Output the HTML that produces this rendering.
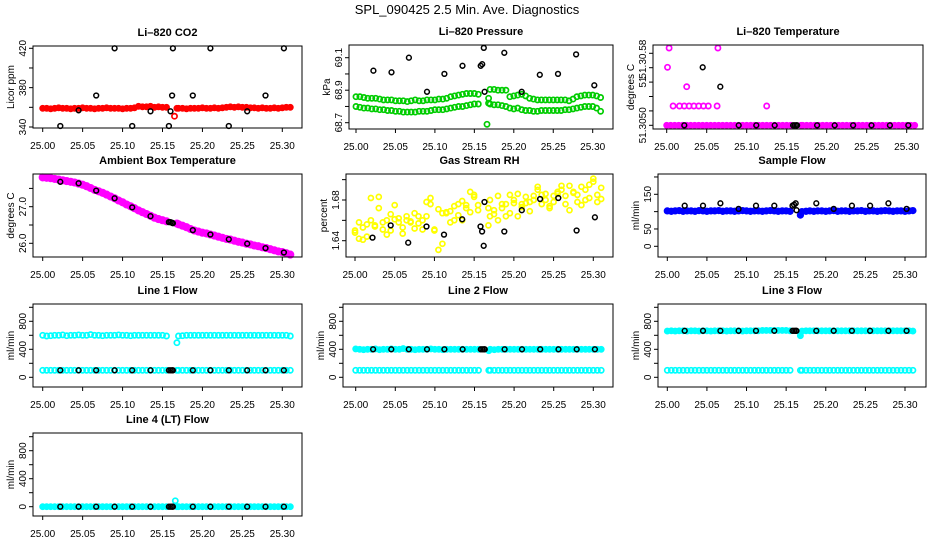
<!DOCTYPE html>
<html><head><meta charset="utf-8"><title>SPL_090425 Diagnostics</title>
<style>
html,body{margin:0;padding:0;background:#fff;}
svg{display:block;font-family:"Liberation Sans",Arial,sans-serif;}
</style></head>
<body>
<svg id="chart" width="936" height="540" viewBox="0 0 936 540" xmlns="http://www.w3.org/2000/svg">
<rect width="936" height="540" fill="#fff"/>
<text x="467" y="14" font-size="13" text-anchor="middle">SPL_090425  2.5 Min. Ave. Diagnostics</text>
</svg>
<script>
// ---- data ----
const xTicks = [25.00,25.05,25.10,25.15,25.20,25.25,25.30];
const xTickLabels = ["25.00","25.05","25.10","25.15","25.20","25.25","25.30"];
const tRef = [25.022,25.045,25.067,25.090,25.112,25.135,25.158,25.160,25.162,25.163,25.188,25.210,25.233,25.256,25.279,25.302];
const tD = [25.000,25.005,25.010,25.015,25.020,25.025,25.030,25.035,25.040,25.045,25.050,25.055,25.060,25.065,25.070,25.075,25.080,25.085,25.090,25.095,25.100,25.105,25.110,25.115,25.120,25.125,25.130,25.135,25.140,25.145,25.150,25.155,25.168,25.170,25.175,25.180,25.185,25.190,25.195,25.200,25.205,25.210,25.215,25.220,25.225,25.230,25.235,25.240,25.245,25.250,25.255,25.260,25.265,25.270,25.275,25.280,25.285,25.290,25.295,25.300,25.305,25.310];

const co2Dense = [359,359,358.5,359,359.5,359,359,358.5,359,359,359.5,359,359,358.5,359,359,359.5,359,359,359,358.5,359,359,359.5,361,360.5,360.5,361,360,360.5,360,360,359,359,359,358.5,359,359,359,359.5,359,359,359.5,359,359.5,360,360.5,360,360.5,360,360,359.5,359.5,359,359.5,359,359,359.5,359,359.5,360,360];
const co2Ref = [341,357,372,420,341,356,341,356,372,420,372,420,341,356,372,420];
const co2OutT = [25.165];
const co2Out = [351];

const presUpper = [68.86,68.86,68.855,68.85,68.85,68.85,68.845,68.84,68.84,68.84,68.835,68.835,68.835,68.83,68.835,68.84,68.835,68.835,68.84,68.84,68.84,68.845,68.845,68.85,68.86,68.865,68.87,68.875,68.88,68.88,68.88,68.875,68.85,68.905,68.905,68.9,68.9,68.9,68.86,68.865,68.87,68.875,68.865,68.85,68.845,68.84,68.84,68.84,68.84,68.84,68.84,68.84,68.84,68.835,68.845,68.86,68.865,68.87,68.87,68.87,68.865,68.855];
const presLower = [68.80,68.795,68.79,68.79,68.785,68.785,68.78,68.78,68.775,68.775,68.77,68.77,68.765,68.765,68.765,68.765,68.77,68.77,68.77,68.775,68.78,68.78,68.78,68.785,68.79,68.795,68.80,68.80,68.805,68.81,68.815,68.815,68.82,68.815,68.81,68.81,68.805,68.80,68.79,68.785,68.79,68.78,68.775,68.775,68.77,68.77,68.775,68.775,68.775,68.775,68.775,68.775,68.78,68.78,68.785,68.79,68.795,68.80,68.80,68.80,68.79,68.77];
const presRef = [69.02,69.01,69.10,68.89,69.00,69.05,69.05,69.06,69.16,68.89,69.13,68.89,68.995,69.00,69.12,68.93];
const presOutT = [25.166];
const presOut = [68.69];

const tempDense = [0,0,0,0,0,0,0,0,0,0,0,0,0,0,0,0,0,0,0,0,0,0,0,0,0,0,0,0,0,0,0,0,0,0,0,0,0,0,0,0,0,0,0,0,0,0,0,0,0,0,0,0,0,0,0,0,0,0,0,0,0,0];
const tempOutT = [25.001,25.003,25.025,25.008,25.016,25.022,25.028,25.034,25.040,25.046,25.052,25.063,25.064,25.125];
const tempOut = [4.03,5.37,2.68,1.34,1.34,1.34,1.34,1.34,1.34,1.34,1.34,1.34,5.37,1.34];
const tempRef = [0,4.03,2.68,0,0,0,0,0,0,0,0,0,0,0,0,0];

const ambDense = [27.80,27.79,27.78,27.76,27.74,27.72,27.70,27.68,27.66,27.63,27.60,27.56,27.51,27.46,27.42,27.38,27.33,27.28,27.23,27.17,27.12,27.06,27.01,26.96,26.90,26.85,26.80,26.75,26.70,26.66,26.63,26.60,26.54,26.52,26.48,26.44,26.39,26.35,26.32,26.29,26.27,26.24,26.21,26.18,26.15,26.12,26.10,26.07,26.04,26.02,25.99,25.97,25.94,25.92,25.89,25.87,25.84,25.81,25.78,25.76,25.73,25.69];
const ambRef = [27.68,27.64,27.44,27.23,26.98,26.74,26.58,26.58,26.56,26.55,26.36,26.24,26.11,25.99,25.87,25.75];

const rhA = [1.650,1.642,1.653,1.644,1.660,1.655,1.672,1.651,1.646,1.666,1.661,1.658,1.647,1.664,1.659,1.652,1.657,1.651,1.664,1.676,1.650,1.671,1.667,1.668,1.669,1.674,1.665,1.679,1.672,1.688,1.683,1.670,1.672,1.664,1.670,1.660,1.676,1.676,1.667,1.677,1.664,1.676,1.683,1.678,1.684,1.690,1.676,1.686,1.672,1.684,1.686,1.694,1.684,1.670,1.688,1.678,1.693,1.680,1.682,1.698,1.678,1.692];
const rhB = [1.648,1.658,1.641,1.656,1.682,1.654,1.683,1.658,1.660,1.650,1.675,1.662,1.653,1.660,1.658,1.667,1.664,1.660,1.678,1.682,1.651,1.631,1.637,1.667,1.658,1.660,1.676,1.660,1.675,1.668,1.685,1.675,1.655,1.680,1.666,1.684,1.672,1.664,1.685,1.680,1.686,1.673,1.677,1.669,1.680,1.693,1.685,1.680,1.674,1.678,1.688,1.690,1.676,1.694,1.687,1.685,1.675,1.690,1.695,1.701,1.685,1.681];
const rhRef = [1.643,1.655,1.638,1.654,1.646,1.661,1.654,1.649,1.635,1.678,1.649,1.670,1.681,1.682,1.650,1.663];

const sampDense = [102,101,102,103,101,102,102,101,103,102,101,102,102,103,101,102,102,101,102,103,102,101,102,102,101,102,103,102,101,102,102,101,90,100,101,102,101,102,102,101,102,103,101,102,102,101,102,102,103,101,102,102,101,102,103,102,101,102,102,101,102,103];
const sampRef = [117,117,124,108,117,117,117,120,124,104,124,108,117,117,124,108];

const l1Upper = [600,590,595,600,600,605,595,600,600,605,600,600,610,600,600,595,600,600,600,605,600,600,595,600,600,600,600,600,600,600,600,590,494,590,595,600,600,600,600,600,600,600,600,600,600,600,600,600,600,600,600,600,600,600,600,600,600,600,600,600,600,590];
const l1Lower = [100,100,100,100,100,100,100,100,100,100,100,100,100,100,100,100,100,100,100,100,100,100,100,100,100,100,100,100,100,100,100,100,100,100,100,100,100,100,100,100,100,100,100,100,100,100,100,100,100,100,100,100,100,100,100,100,100,100,100,100,100,100];
const l1Ref = [100,100,100,100,100,100,100,100,100,100,100,100,100,100,100,100];

const l2Upper = [405,400,395,400,400,405,395,400,400,405,400,400,410,400,400,395,400,400,400,405,400,400,395,400,400,400,400,400,400,400,400,400,380,400,395,400,400,400,400,400,400,400,400,400,400,400,400,400,400,400,400,400,400,400,400,400,400,400,400,400,400,400];
const l2Lower = l1Lower.slice();
const l2Ref = [400,400,400,400,400,400,400,400,400,400,400,400,400,400,400,400];

const l3Upper = [660,665,660,665,665,660,665,665,660,665,665,660,665,665,665,660,665,665,665,660,665,665,665,665,670,670,670,670,670,670,670,665,594,660,665,665,665,665,665,665,665,665,665,665,665,665,665,665,665,665,665,665,665,665,665,665,665,665,665,665,665,660];
const l3Lower = l1Lower.slice();
const l3Ref = [665,665,665,665,665,665,665,665,665,665,665,665,665,665,665,665];

const l4Dense = [0,0,0,0,0,0,0,0,0,0,0,0,0,0,0,0,0,0,0,0,0,0,0,0,0,0,0,0,0,0,0,0,0,0,0,0,0,0,0,0,0,0,0,0,0,0,0,0,0,0,0,0,0,0,0,0,0,0,0,0,0,0];
const l4OutT = [25.166];
const l4Out = [85];
const l4Ref = [0,0,0,0,0,0,0,0,0,0,0,0,0,0,0,0];

// ---- layout ----
const svg = document.getElementById('chart');
const NS = 'http://www.w3.org/2000/svg';
function mk(tag, attrs, parent){
  const e = document.createElementNS(NS, tag);
  for (const k in attrs) e.setAttribute(k, attrs[k]);
  (parent||svg).appendChild(e);
  return e;
}

// series: [times, values, colour, radius, bandWidth(optional)]
const panels = [
 {key:'co2',title:'Li\u2013820 CO2',ylab:'Licor ppm',l:33,r:302,t:46,b:128,x0:42.7,x1:282.3,yv0:340,yp0:127,yv1:420,yp1:48.3,
  yt:[340,360,380,400,420],yl:[[340,'340'],[380,'380'],[420,'420']],
  series:[[tD,co2Dense,'#ff0000',2.6,5],[co2OutT,co2Out,'#ff0000',2.6],[tRef,co2Ref,'#000',2.4]]},
 {key:'pressure',title:'Li\u2013820 Pressure',ylab:'kPa',l:349,r:613,t:45,b:129,x0:356,x1:592.7,yv0:68.7,yp0:122.7,yv1:69.1,yp1:57.7,
  yt:[68.7,68.8,68.9,69.0,69.1],yl:[[68.7,'68.7'],[68.9,'68.9'],[69.1,'69.1']],
  series:[[tD,presUpper,'#00cc00',2.6],[tD,presLower,'#00cc00',2.6],[presOutT,presOut,'#00cc00',2.6],[tRef,presRef,'#000',2.4]]},
 {key:'temperature',title:'Li\u2013820 Temperature',ylab:'degrees C',l:653,r:923,t:45,b:129,x0:666.7,x1:906.7,yv0:0,yp0:125.3,yv1:5,yp1:53.3,
  yt:[0,1,2,3,4,5],yl:[[0,'51.3050'],[3,'51'],[4.6,'51.30.58']],
  series:[[tD,tempDense,'#ff00ff',2.6,4],[tempOutT,tempOut,'#ff00ff',2.6],[tRef,tempRef,'#000',2.4]]},
 {key:'ambient',title:'Ambient Box Temperature',ylab:'degrees C',l:33,r:302,t:174,b:257,x0:42.7,x1:282.3,yv0:26.0,yp0:243.3,yv1:27.0,yp1:206.7,
  yt:[26.0,26.5,27.0,27.5],yl:[[26.0,'26.0'],[27.0,'27.0']],
  series:[[tD,ambDense,'#ff00ff',3.2,7],[tRef,ambRef,'#000',2.4]]},
 {key:'rh',title:'Gas Stream RH',ylab:'percent',l:346,r:613,t:174,b:257,x0:355,x1:593.3,yv0:1.64,yp0:240.7,yv1:1.68,yp1:200,
  yt:[1.64,1.66,1.68,1.70],yl:[[1.64,'1.64'],[1.68,'1.68']],
  series:[[tD,rhA,'#ffff00',2.5],[tD,rhB,'#ffff00',2.5],[tRef,rhRef,'#000',2.4]]},
 {key:'sample',title:'Sample Flow',ylab:'ml/min',l:658,r:926,t:174,b:257,x0:667.3,x1:905,yv0:0,yp0:246.3,yv1:150,yp1:194.3,
  yt:[0,50,100,150,200],yl:[[0,'0'],[50,'50'],[150,'150']],
  series:[[tD,sampDense,'#0000ff',2.8,5],[tRef,sampRef,'#000',2.4]]},
 {key:'line1',title:'Line 1 Flow',ylab:'ml/min',l:33,r:302,t:304,b:387,x0:42.7,x1:282.3,yv0:0,yp0:377.3,yv1:800,yp1:321.3,
  yt:[0,200,400,600,800,1000],yl:[[0,'0'],[400,'400'],[800,'800']],
  series:[[tD,l1Upper,'#00ffff',2.6],[tD,l1Lower,'#00ffff',2.6],[tRef,l1Ref,'#000',2.4]]},
 {key:'line2',title:'Line 2 Flow',ylab:'ml/min',l:343,r:613,t:304,b:387,x0:355.7,x1:593.3,yv0:0,yp0:377.3,yv1:800,yp1:321.3,
  yt:[0,200,400,600,800,1000],yl:[[0,'0'],[400,'400'],[800,'800']],
  series:[[tD,l2Upper,'#00ffff',2.6,4],[tD,l2Lower,'#00ffff',2.6],[tRef,l2Ref,'#000',2.4]]},
 {key:'line3',title:'Line 3 Flow',ylab:'ml/min',l:658,r:926,t:304,b:387,x0:667.3,x1:905,yv0:0,yp0:377.3,yv1:800,yp1:321.3,
  yt:[0,200,400,600,800,1000],yl:[[0,'0'],[400,'400'],[800,'800']],
  series:[[tD,l3Upper,'#00ffff',2.6,4],[tD,l3Lower,'#00ffff',2.6],[tRef,l3Ref,'#000',2.4]]},
 {key:'line4',title:'Line 4 (LT) Flow',ylab:'ml/min',l:33,r:302,t:433,b:516,x0:42.7,x1:282.3,yv0:0,yp0:506.7,yv1:800,yp1:450.7,
  yt:[0,200,400,600,800,1000],yl:[[0,'0'],[400,'400'],[800,'800']],
  series:[[tD,l4Dense,'#00ffff',2.6,5],[l4OutT,l4Out,'#00ffff',2.6],[tRef,l4Ref,'#000',2.4]]}
];

panels.forEach(p => {
  const g = mk('g', {});
  
  
  const xs = v => p.x0 + (v - 25.0) / 0.3 * (p.x1 - p.x0);
  const ys = v => p.yp0 + (v - p.yv0) / (p.yv1 - p.yv0) * (p.yp1 - p.yp0);
  const tt = mk('text', {x:(p.l+p.r)/2, y:p.t-10, 'font-size':11, 'font-weight':'bold', 'text-anchor':'middle'}, g);
  
  
  tt.textContent = p.title;
  const pg = mk('g', {}, g);
  
  
  p.series.forEach(s => {
    const [tArr, vArr, col, rr, band] = s;
    const n = Math.min(tArr.length, vArr.length);
    if (band) {
      // split at the data gap (> 0.008 in time)
      let seg = [];
      const flush = () => {
        if (seg.length > 1) {
          const pl = mk('polyline', {points:seg.join(' '), fill:'none', stroke:col, 'stroke-width':band, 'stroke-linejoin':'round', 'stroke-linecap':'round'}, pg);
          
          
        }
        seg = [];
      };
      for (let i = 0; i < n; i++) {
        if (i > 0 && tArr[i] - tArr[i-1] > 0.008) flush();
        seg.push(xs(tArr[i]).toFixed(1) + ',' + ys(vArr[i]).toFixed(1));
      }
      flush();
    }
    for (let i = 0; i < n; i++) {
      const c = mk('circle', {cx:xs(tArr[i]).toFixed(1), cy:ys(vArr[i]).toFixed(1), r:rr, fill:'none', stroke:col, 'stroke-width': col==='#000'?1.5:1.7}, pg);
      
      
    }
  });
  const box = mk('rect', {x:p.l, y:p.t, width:p.r-p.l, height:p.b-p.t, fill:'none', stroke:'#000', 'stroke-width':1}, g);
  
  
  const xa = mk('g', {}, g);
  
  
  xTicks.forEach((v, i) => {
    const x = xs(v);
    mk('line', {x1:x, x2:x, y1:p.b, y2:p.b+4, stroke:'#000'}, xa);
    const tl = mk('text', {x:x, y:p.b+21, 'font-size':10, 'text-anchor':'middle'}, xa);
    
    
    tl.textContent = xTickLabels[i];
  });
  const ya = mk('g', {}, g);
  
  
  p.yt.forEach(v => {
    const y = ys(v);
    mk('line', {x1:p.l-4, x2:p.l, y1:y, y2:y, stroke:'#000'}, ya);
  });
  p.yl.forEach(pair => {
    const y = ys(pair[0]), x = p.l - 7;
    const tl = mk('text', {x:x, y:y, 'font-size':10, 'text-anchor':'middle', transform:'rotate(-90 '+x+' '+y.toFixed(1)+')'}, ya);
    
    
    tl.textContent = pair[1];
  });
  const ym = (p.t + p.b) / 2, yx = p.l - 19;
  const yt = mk('text', {x:yx, y:ym, 'font-size':10, 'text-anchor':'middle', transform:'rotate(-90 '+yx+' '+ym+')'}, ya);
  
  
  yt.textContent = p.ylab;
});
</script>
</body></html>
